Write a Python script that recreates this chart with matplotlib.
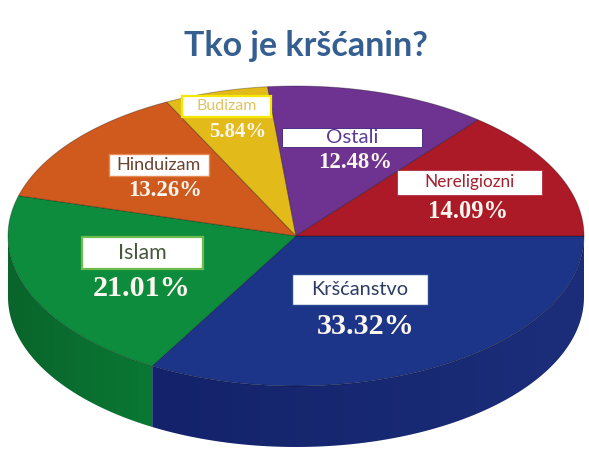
import numpy as np
import matplotlib
matplotlib.use('Agg')
import matplotlib.pyplot as plt
from matplotlib.colors import LinearSegmentedColormap
from matplotlib.patches import Polygon, Rectangle

title = 'Tko je kršćanin?'
names = ['Kršćanstvo', 'Islam', 'Hinduizam', 'Budizam', 'Ostali', 'Nereligiozni']
shares = [33.32, 21.01, 13.26, 5.84, 12.48, 14.09]
face_colors = ['#1d3588', '#0e8c3e', '#d05a1e', '#e2bb1a', '#6e3391', '#ac1a27']
name_colors = ['#2c3b63', '#46593c', '#6a4230', '#e0c462', '#5a3b98', '#a31f2c']
edge_colors = ['#2a4592', '#6cbb4c', '#e58a52', '#f4e800', '#4a2f86', '#ac1a27']
edge_width = [1.0, 1.6, 1.0, 1.6, 0.7, 0.5]

# label boxes x0, y0, x1, y1 in pixels
boxes = [(292, 274, 428, 305), (82, 237, 203, 269), (109, 154, 209, 176),
         (182, 96, 271, 117), (282, 128, 422, 147), (397, 170, 542, 195)]
name_size = [14.4, 15.4, 13, 11.5, 14.7, 12.3]
pct_pos = [(366, 326), (142, 288), (165, 191), (238, 132), (355, 162), (468, 212)]
pct_size = [21.7, 21.7, 16.4, 15, 16.4, 17.7]

cx, cy, rx, ry = 296, 236, 288, 150
depth = 61


def rim(t):
    return cx + rx * np.cos(t), cy + ry * np.sin(t)


def draw_side(ax, t0, t1, c_left, c_right):
    t = np.linspace(t0, t1, 100)
    x, y = rim(t)
    xy = np.column_stack([np.r_[x, x[::-1]], np.r_[y, y[::-1] + depth]])
    cmap = LinearSegmentedColormap.from_list('side', [c_left, c_right])
    im = ax.imshow(np.linspace(0, 1, 256).reshape(1, -1), cmap=cmap, aspect='auto',
                   extent=[xy[:, 0].min(), xy[:, 0].max(), xy[:, 1].max(), xy[:, 1].min()],
                   zorder=1)
    im.set_clip_path(Polygon(xy, transform=ax.transData))


fig = plt.figure(figsize=[5.89, 4.53], dpi=100)
ax = fig.add_axes([0, 0, 1, 1])

edges = np.radians(np.cumsum([0] + shares) * 3.6)
draw_side(ax, edges[0], edges[1], '#13226a', '#1c2e7a')
draw_side(ax, edges[1], np.pi, '#09652b', '#0a7834')

for i in range(len(shares)):
    t = np.linspace(edges[i], edges[i + 1], 100)
    x, y = rim(t)
    ax.fill(np.r_[cx, x], np.r_[cy, y], fc=face_colors[i], ec=(0, 0, 0, 0.3), lw=0.7, zorder=2)
    b = boxes[i]
    ax.add_patch(Rectangle((b[0], b[1]), b[2] - b[0], b[3] - b[1], fc='white',
                           ec=edge_colors[i], lw=edge_width[i], zorder=3))
    ax.text((b[0] + b[2]) / 2, (b[1] + b[3]) / 2, names[i], color=name_colors[i], size=name_size[i],
            family='Lato', ha='center', va='center', zorder=4)
    ax.text(pct_pos[i][0], pct_pos[i][1], '%.2f%%' % shares[i], color='#fbf6ee', size=pct_size[i],
            family='Liberation Serif', weight='bold', ha='center', va='center', zorder=4)

ax.text(306, 46, title, color='#365f91', size=24.5, family='Lato', weight='bold',
        ha='center', va='center')
ax.set_xlim(0, 589)
ax.set_ylim(453, 0)
ax.axis('off')
fig.savefig('out.png', dpi=100)
